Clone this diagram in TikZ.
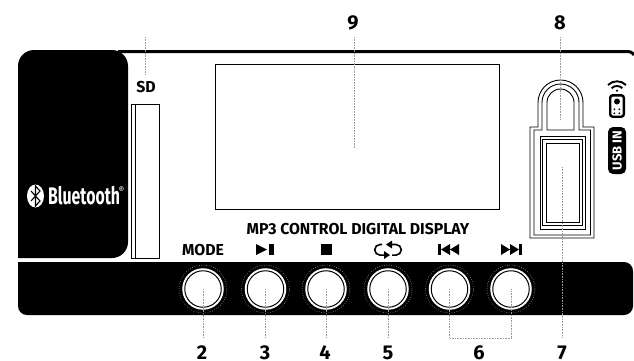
\documentclass[tikz,border=0pt]{standalone}
\usepackage{fontspec}
\usepackage{tikz}
\setmainfont{Fira Sans}
\newfontfamily\btfont[FakeStretch=0.66]{Fira Sans}
\usetikzlibrary{shapes.geometric}

\begin{document}
\begin{tikzpicture}
		[x=1pt,y=-1pt,
		leader/.style={draw=black!40,line width=.8pt,dash pattern=on .8pt off .8pt},
		num/.style={font=\fontsize{20}{20}\selectfont\bfseries,inner sep=0pt},
		lbl/.style={font=\fontsize{15.8}{16}\selectfont\bfseries,inner sep=0pt},
		btn/.style={circle,minimum size=36.5pt,inner sep=0pt,outer sep=0pt,fill=white,draw=black,line width=1pt,preaction={draw=white,line width=5pt}},
		halo/.style={circle,minimum size=48pt,inner sep=0pt,draw=black!30,line width=.4pt,dash pattern=on .8pt off 1.6pt},
		usb/.style={draw=black,line width=.9pt}]

		\useasboundingbox (0,0) rectangle (634,360);

		% case
		\fill (18,262) [rounded corners=9pt] -- (633,262) -- (633,315) -- (18,315) [sharp corners] -- cycle;
		\draw[line width=3pt] (118,51.5) -- (626,51.5) .. controls (630,51.5) and (632,52) .. (634,55);
		\fill (18,258) [rounded corners=16pt] -- (18,50) -- (128,50) -- (128,258) [sharp corners] -- cycle;

		% SD slot
		\draw[line width=.8pt] (131,104) rectangle (159,258);
		\draw[line width=.8pt] (135,104) -- (135,258);
		\node[lbl] (sd) at (146,87) {SD};
		\coordinate (sdtop) at (145,37);
		\coordinate (sdend) at (145,75);
		\draw[leader] (sdtop) -- (sdend);

		% bluetooth
		\node[ellipse,fill=white,minimum width=17pt,minimum height=23pt,inner sep=0pt] (btlogo) at (35.5,196) {};
		\draw[black,line width=1.1pt] (31,191) -- (40,201) -- (35.5,206) -- (35.5,186) -- (40,191) -- (31,201);
		\node[text=white,font=\btfont\fontsize{24}{24}\selectfont\bfseries,inner sep=0pt,anchor=west] (bt) at (48,196) {Bluetooth};
		\node[text=white,font=\fontsize{9}{9}\selectfont,inner sep=0pt] (btreg) at (121.5,190) {®};

		% display
		\node[draw=black,line width=.9pt,minimum width=284pt,minimum height=145pt,inner sep=0pt,outer sep=0pt] (disp) at (357,136.5) {};
		\node[lbl] (title) at (358,229) {MP3 CONTROL DIGITAL DISPLAY};

		% usb port
		\draw[usb] (538,127) -- (538,102.5) arc (180:360:22.5) -- (583,127) -- (594,127) -- (594,238) -- (530,238) -- (530,127) -- cycle;
		\draw[usb] (542,130) -- (542,102.5) arc (180:360:18.5) -- (579,130) -- (590.5,130) -- (590.5,235) -- (534,235) -- (534,130) -- cycle;
		\draw[usb] (547,130) -- (547,102.5) arc (180:360:13.5) -- (574,130) -- cycle;
		\draw[usb] (540,136) rectangle (585,229);
		\draw[usb] (542.5,139) rectangle (582.5,225.5);
		\draw[usb] (546.7,143) rectangle (579,222);

		% remote and usb badge
		\draw[line width=1.9pt] (611.6,88.2) arc (225:315:7.6);
		\draw[line width=1.9pt] (608,85) arc (225:315:12.7);
		\fill (617,90.7) circle (1.2);
		\node[draw=black,fill=white,line width=2.4pt,rounded corners=2.5pt,minimum width=13.6pt,minimum height=21.4pt,inner sep=0pt] (remote) at (617,106) {};
		\fill (617,101.5) circle (3);
		\fill (614.3,109.3) circle (1) (619.3,109.3) circle (1) (614.3,113.3) circle (1) (619.3,113.3) circle (1);
		\node[fill=black,text=white,rounded corners=5pt,rotate=90,minimum width=47pt,minimum height=18pt,inner sep=0pt,font=\fontsize{13}{13}\selectfont\bfseries] (usbin) at (617,150.5) {USB IN};

		% buttons
		\node[lbl] (mode) at (203,250) {MODE};
		\fill (256,244) -- (267,249.5) -- (256,255) -- cycle;
		\fill (268.5,244) rectangle (274,255);
		\fill (321,244) rectangle (332,255);
		\draw[line width=1.6pt] (382,244.5) -- (380,244.5) arc (270:90:5.3) -- (384,255.1);
		\draw[line width=1.6pt] (392,244.5) -- (396,244.5) arc (270:450:5.3) -- (392,255.1);
		\fill (392,240.5) -- (386,244.5) -- (392,248.5) -- cycle;
		\fill (384,251) -- (390,255.1) -- (384,259) -- cycle;
		\fill (438,244) rectangle (441,255);
		\fill (441,249.5) -- (450,244) -- (450,255) -- cycle;
		\fill (450,249.5) -- (459,244) -- (459,255) -- cycle;
		\fill (519,244) rectangle (522,255);
		\fill (519,249.5) -- (510,244) -- (510,255) -- cycle;
		\fill (510,249.5) -- (501,244) -- (501,255) -- cycle;

		\node[halo] (h2) at (203,289) {};
		\node[halo] (h3) at (265.5,289) {};
		\node[halo] (h4) at (326,289) {};
		\node[halo] (h5) at (388,289) {};
		\node[halo] (h6a) at (449.5,289) {};
		\node[halo] (h6b) at (511,289) {};
		\node[btn] (b2) at (203,289) {};
		\node[btn] (b3) at (265.5,289) {};
		\node[btn] (b4) at (326,289) {};
		\node[btn] (b5) at (388,289) {};
		\node[btn] (b6a) at (449.5,289) {};
		\node[btn] (b6b) at (511,289) {};

		% numbers
		\coordinate (e2) at (203,338);
		\coordinate (e3) at (265.5,338);
		\coordinate (e4) at (326,338);
		\coordinate (e5) at (388,338);
		\coordinate (e6a) at (449.5,338);
		\coordinate (e6b) at (511,338);
		\coordinate (e7) at (562,338);
		\coordinate (e7top) at (562,167);
		\coordinate (e8) at (560.5,37);
		\coordinate (e8end) at (560.5,119);
		\coordinate (e9) at (354,37);
		\coordinate (e9end) at (354,148);

		\draw[leader] (b2.center) -- (e2);
		\draw[leader] (b3.center) -- (e3);
		\draw[leader] (b4.center) -- (e4);
		\draw[leader] (b5.center) -- (e5);
		\draw[leader] (b6a.center) -- (e6a) -- (e6b) -- (b6b.center);
		\draw[leader] (e7top) -- (e7);
		\draw[leader] (e8) -- (e8end);
		\draw[leader] (e9) -- (e9end);

		\node[num] (n2) at (202,352.5) {2};
		\node[num] (n3) at (265,352.5) {3};
		\node[num] (n4) at (325,352.5) {4};
		\node[num] (n5) at (388,352.5) {5};
		\node[num] (n6) at (479,352.5) {6};
		\node[num] (n7) at (562,352.5) {7};
		\node[num] (n8) at (560,23) {8};
		\node[num] (n9) at (353,23) {9};

\end{tikzpicture}
\end{document}
